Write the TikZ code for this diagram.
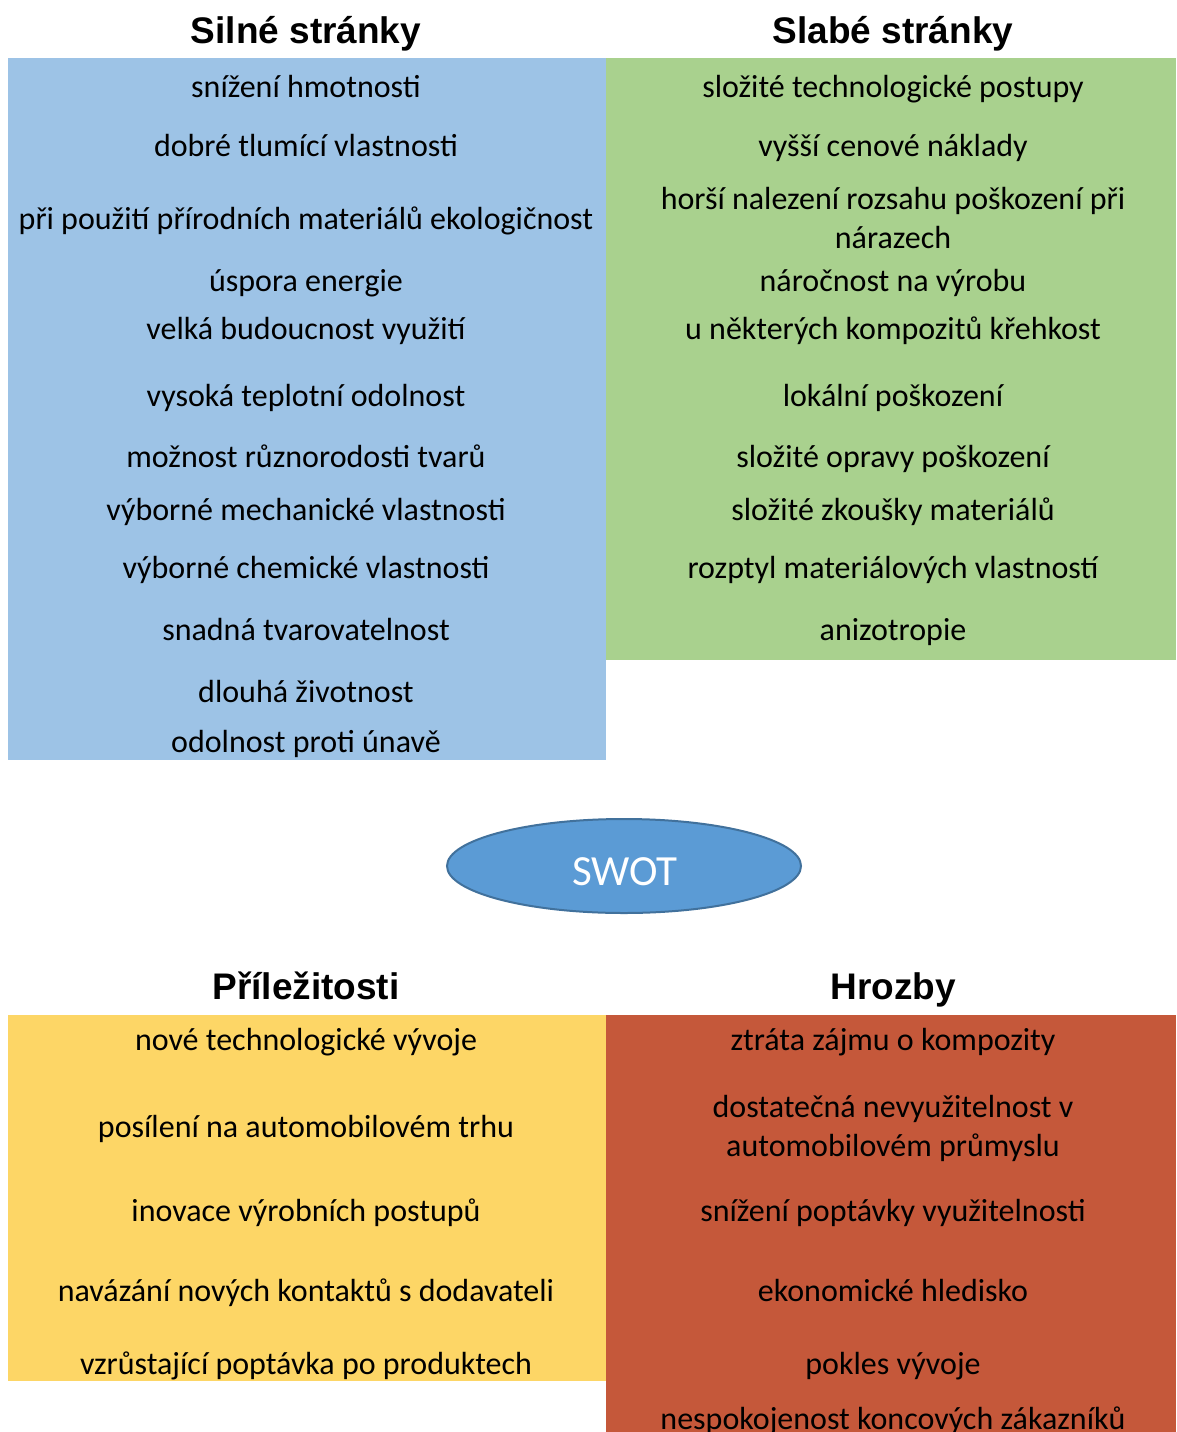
\documentclass[tikz,border=0pt]{standalone}
\usepackage{fontspec}
\setmainfont{Carlito}
\newfontfamily\headfont{Liberation Sans}
\usetikzlibrary{shapes.geometric}
\definecolor{sblue}{HTML}{9DC3E6}
\definecolor{sgreen}{HTML}{A9D18E}
\definecolor{syellow}{HTML}{FDD666}
\definecolor{sred}{HTML}{C5583A}
\definecolor{efill}{HTML}{5B9BD5}
\definecolor{edraw}{HTML}{41719C}
\tikzset{
  panel/.style={draw=none, inner sep=0pt, outer sep=0pt},
  item/.style={anchor=base, inner sep=0pt, align=center, font=\fontsize{32}{39}\selectfont},
  head/.style={anchor=base, inner sep=0pt, font=\headfont\bfseries\fontsize{37}{44}\selectfont},
}
\begin{document}
\begin{tikzpicture}[x=1pt,y=-1pt]
\useasboundingbox (0,0) rectangle (1176,1432);
\fill[white] (0,0) rectangle (1176,1432);
% panels
\path[fill=sblue] (8,58) rectangle (606,760) node[panel] (pS) {};
\path[fill=sgreen] (606,58) rectangle (1176,660) node[panel] (pW) {};
\path[fill=syellow] (8,1015) rectangle (606,1381) node[panel] (pO) {};
\path[fill=sred] (606,1015) rectangle (1176,1440) node[panel] (pT) {};
% headings
\node[head] (hS) at (306,43) {Silné stránky};
\node[head] (hW) at (893,43) {Slabé stránky};
\node[head] (hO) at (306,999) {Příležitosti};
\node[head] (hT) at (893,999) {Hrozby};
% strengths
\node[item] (s1) at (306,97) {snížení hmotnosti};
\node[item] (s2) at (306,156) {dobré tlumící vlastnosti};
\node[item] (s3) at (306,229) {při použití přírodních materiálů ekologičnost};
\node[item] (s4) at (306,291) {úspora energie};
\node[item] (s5) at (306,339) {velká budoucnost využití};
\node[item] (s6) at (306,406) {vysoká teplotní odolnost};
\node[item] (s7) at (306,467) {možnost různorodosti tvarů};
\node[item] (s8) at (306,520) {výborné mechanické vlastnosti};
\node[item] (s9) at (306,578) {výborné chemické vlastnosti};
\node[item] (s10) at (306,640) {snadná tvarovatelnost};
\node[item] (s11) at (306,702) {dlouhá životnost};
\node[item] (s12) at (306,752) {odolnost proti únavě};
% weaknesses
\node[item] (w1) at (893,97) {složité technologické postupy};
\node[item] (w2) at (893,156) {vyšší cenové náklady};
\node[item] (w3) at (893,248) {horší nalezení rozsahu poškození při\\nárazech};
\node[item] (w4) at (893,291) {náročnost na výrobu};
\node[item] (w5) at (893,339) {u některých kompozitů křehkost};
\node[item] (w6) at (893,406) {lokální poškození};
\node[item] (w7) at (893,467) {složité opravy poškození};
\node[item] (w8) at (893,520) {složité zkoušky materiálů};
\node[item] (w9) at (893,578) {rozptyl materiálových vlastností};
\node[item] (w10) at (893,640) {anizotropie};
% SWOT
\node[ellipse, fill=efill, draw=edraw, line width=2pt, minimum width=354pt, minimum height=94pt, inner sep=0pt] (swot) at (624,866) {};
\node[anchor=base, inner sep=0pt, text=white, font=\fontsize{43}{50}\selectfont] (swotlabel) at (625,885) {SWOT};
% opportunities
\node[item] (o1) at (306,1050) {nové technologické vývoje};
\node[item] (o2) at (306,1137) {posílení na automobilovém trhu};
\node[item] (o3) at (306,1221) {inovace výrobních postupů};
\node[item] (o4) at (306,1301) {navázání nových kontaktů s dodavateli};
\node[item] (o5) at (306,1374) {vzrůstající poptávka po produktech};
% threats
\node[item] (t1) at (893,1050) {ztráta zájmu o kompozity};
\node[item] (t2) at (893,1156) {dostatečná nevyužitelnost v\\automobilovém průmyslu};
\node[item] (t3) at (893,1221) {snížení poptávky využitelnosti};
\node[item] (t4) at (893,1301) {ekonomické hledisko};
\node[item] (t5) at (893,1374) {pokles vývoje};
\node[item] (t6) at (893,1429) {nespokojenost koncových zákazníků};
\end{tikzpicture}
\end{document}
